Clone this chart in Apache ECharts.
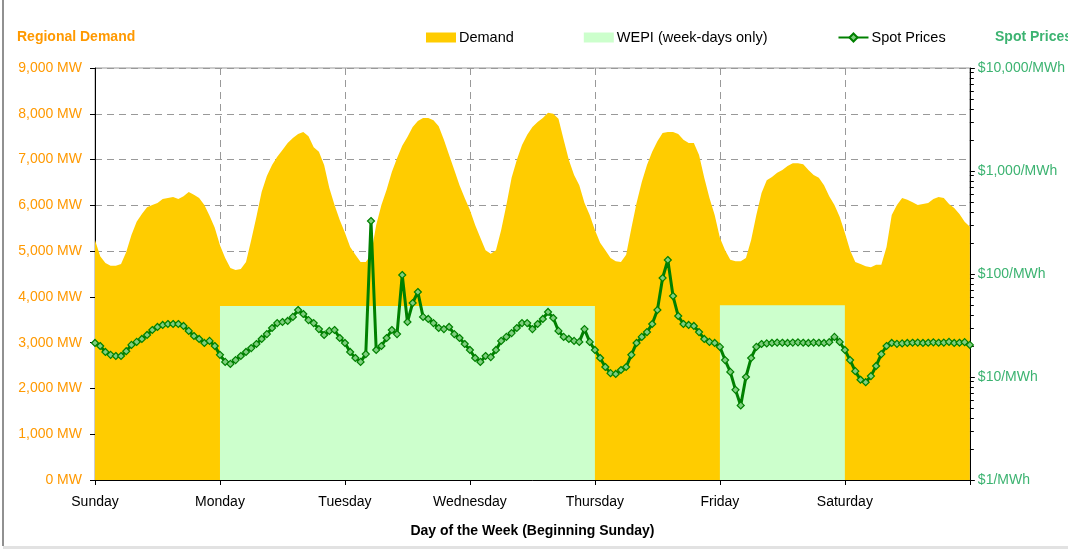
<!DOCTYPE html>
<html>
<head>
<meta charset="UTF-8">
<title>Regional Demand and Spot Prices</title>
<script src="https://cdn.jsdelivr.net/npm/echarts@6/dist/echarts.min.js"></script>
<style>
body { margin: 0; background: #fff; }
#chart { width: 1068px; height: 549px; }
</style>
</head>
<body>
<div id="chart"></div>
<script>
// x axis: days since Sunday 00:00, hourly readings
var days = ['Sunday', 'Monday', 'Tuesday', 'Wednesday', 'Thursday', 'Friday', 'Saturday'];

// regional demand, MW (24 per day + closing point)
var demand = [
  5240, 4890, 4740, 4680, 4680, 4720, 4980, 5350, 5640, 5810, 5960, 6010, 6050, 6140, 6160, 6180, 6140, 6200, 6290, 6230, 6160, 6010, 5770, 5510,
  5130, 4850, 4630, 4590, 4610, 4760, 5240, 5750, 6290, 6640, 6880, 7060, 7210, 7360, 7470, 7560, 7600, 7510, 7270, 7170, 6880, 6380, 6010, 5680,
  5400, 5090, 4920, 4760, 4760, 4920, 5570, 6010, 6340, 6730, 7030, 7300, 7490, 7710, 7840, 7910, 7910, 7860, 7730, 7430, 7100, 6770, 6440, 6160,
  5900, 5570, 5290, 5020, 4940, 5020, 5460, 6010, 6600, 6990, 7320, 7540, 7710, 7820, 7910, 8020, 8000, 7890, 7430, 6990, 6660, 6440, 6050, 5790,
  5460, 5180, 5020, 4850, 4780, 4760, 4920, 5500, 6050, 6510, 6880, 7170, 7400, 7580, 7600, 7600, 7560, 7430, 7360, 7360, 7100, 6600, 6160, 5790,
  5290, 5020, 4810, 4780, 4780, 4850, 5240, 5790, 6270, 6550, 6620, 6710, 6770, 6860, 6920, 6920, 6900, 6770, 6660, 6600, 6440, 6200, 6010, 5750,
  5400, 5020, 4760, 4720, 4670, 4650, 4700, 4700, 5090, 5790, 6010, 6160, 6120, 6070, 6010, 6030, 6050, 6140, 6180, 6160, 6030, 5940, 5810, 5640,
  5530
];

// spot prices, $/MWh (24 per day + closing point)
var spot = [
  21.4, 20.0, 17.5, 16.4, 16.0, 16.0, 17.8, 20.5, 21.9, 23.4, 25.6, 28.6, 30.6, 32.0, 32.7, 32.7, 32.7, 31.3, 28.0, 25.0, 23.4, 21.4, 22.4, 20.0,
  16.4, 14.0, 13.4, 14.6, 16.0, 17.5, 19.1, 20.9, 23.4, 26.1, 29.9, 33.4, 34.2, 35.0, 38.3, 44.7, 40.9, 35.7, 33.4, 29.2, 25.6, 28.0, 28.6, 23.9,
  21.4, 17.5, 15.3, 14.0, 16.7, 327, 18.3, 20.0, 23.9, 28.6, 26.1, 97.8, 34.2, 52.3, 66.9, 38.3, 36.6, 33.4, 29.9, 29.2, 30.6, 26.1, 23.9, 20.9,
  18.3, 15.3, 14.0, 16.0, 15.6, 18.3, 22.4, 24.5, 26.7, 29.9, 33.4, 33.4, 29.2, 32.7, 36.6, 42.8, 37.4, 28.0, 24.5, 23.4, 22.4, 21.9, 29.2, 21.9,
  18.3, 15.3, 12.5, 10.9, 10.7, 11.7, 12.5, 16.4, 21.4, 24.5, 27.3, 32.7, 44.7, 91.5, 136.8, 61.1, 39.1, 32.7, 32.0, 31.3, 27.3, 23.4, 21.9, 21.4,
  19.6, 14.6, 11.2, 7.5, 5.3, 10.0, 15.3, 19.6, 20.9, 21.2, 21.4, 21.6, 21.5, 21.4, 21.6, 21.7, 21.5, 21.4, 21.6, 21.5, 21.4, 21.8, 24.5, 21.9,
  18.3, 14.6, 11.4, 9.4, 8.9, 10.2, 12.8, 16.7, 20.0, 21.4, 21.0, 21.2, 21.4, 21.5, 21.6, 21.4, 21.5, 21.7, 21.5, 21.6, 21.9, 21.4, 21.5, 21.8,
  20.5
];

// WEPI blocks (week-days only), in days and MW
var wepiStart = [1, 5];
var wepiEnd = [4, 6];
var wepiLevel = [3800, 3820];

var font = '"Liberation Sans", Arial, sans-serif';

function commas(v) {
  return String(v).replace(/\B(?=(\d{3})+(?!\d))/g, ',');
}

var demandData = demand.map(function (v, i) { return [i / 24, v]; });
var spotData = spot.map(function (v, i) { return [i / 24, v]; });
var wepiData = [];
for (var k = 0; k < wepiStart.length; k++) {
  if (k > 0) wepiData.push([wepiStart[k], '-']);
  wepiData.push([wepiStart[k], wepiLevel[k]]);
  wepiData.push([wepiEnd[k], wepiLevel[k]]);
}

var chart = echarts.init(document.getElementById('chart'));
var option = {
  animation: false,
  backgroundColor: '#fff',
  textStyle: { fontFamily: font },
  title: [
    { text: 'Regional Demand', left: 17, top: 30, padding: 0,
      textStyle: { color: '#FF9900', fontSize: 14, fontWeight: 'bold', fontFamily: font } },
    { text: 'Spot Prices', left: 995, top: 30, padding: 0,
      textStyle: { color: '#3CB371', fontSize: 14, fontWeight: 'bold', fontFamily: font } }
  ],
  legend: {
    left: 426,
    top: 30,
    padding: 0,
    itemWidth: 30,
    itemHeight: 10,
    itemGap: 70,
    textStyle: { fontSize: 14.5, color: '#000', fontFamily: font, padding: [0, 0, 0, -2] },
    data: [
      { name: 'Demand', icon: 'rect' },
      { name: 'WEPI (week-days only)', icon: 'rect' },
      { name: 'Spot Prices' }
    ]
  },
  graphic: [
    { type: 'line', shape: { x1: 3, y1: 0, x2: 3, y2: 546 }, style: { stroke: '#222', lineWidth: 1 } },
    { type: 'rect', shape: { x: 3, y: 546, width: 1065, height: 3 }, style: { fill: '#e2e2e2' } }
  ],
  grid: {
    left: 95, right: 98, top: 68, bottom: 69,
    show: true, borderColor: '#999', borderWidth: 1
  },
  xAxis: {
    type: 'value',
    min: 0, max: 7, interval: 1,
    name: 'Day of the Week (Beginning Sunday)',
    nameLocation: 'middle',
    nameGap: 44,
    nameTextStyle: { fontSize: 14, fontWeight: 'bold', color: '#000', fontFamily: font },
    axisLine: { lineStyle: { color: '#000', width: 1 } },
    axisTick: { length: 5, lineStyle: { color: '#000' } },
    axisLabel: {
      margin: 15, fontSize: 14, color: '#000', fontFamily: font,
      formatter: function (v) { return days[v] || ''; }
    },
    splitLine: { show: true, lineStyle: { color: '#999', type: [7, 5], width: 1 } }
  },
  yAxis: [
    {
      type: 'value',
      min: 0, max: 9000, interval: 1000,
      axisLine: { show: true, lineStyle: { color: '#000', width: 1 } },
      axisTick: { show: true, length: 5, lineStyle: { color: '#000' } },
      axisLabel: {
        margin: 13, fontSize: 14, color: '#FF9900', fontFamily: font,
        formatter: function (v) { return commas(v) + ' MW'; }
      },
      splitLine: { show: true, lineStyle: { color: '#999', type: [7, 5], width: 1 } }
    },
    {
      type: 'log',
      logBase: 10,
      min: 1, max: 10000,
      position: 'right',
      axisLine: { show: true, lineStyle: { color: '#000', width: 1 } },
      axisTick: { show: true, length: 5, lineStyle: { color: '#000' } },
      minorTick: { show: true, splitNumber: 9, length: 4, lineStyle: { color: '#000' } },
      axisLabel: {
        margin: 8, fontSize: 14, color: '#3CB371', fontFamily: font,
        formatter: function (v) { return '$' + commas(v) + '/MWh'; }
      },
      splitLine: { show: false }
    }
  ],
  series: [
    {
      name: 'Demand',
      type: 'line',
      yAxisIndex: 0,
      data: demandData,
      showSymbol: false,
      color: '#FFCC00',
      lineStyle: { width: 0 },
      areaStyle: { color: '#FFCC00', opacity: 1 },
      z: 1
    },
    {
      name: 'WEPI (week-days only)',
      type: 'line',
      yAxisIndex: 0,
      data: wepiData,
      showSymbol: false,
      connectNulls: false,
      color: '#CCFFCC',
      lineStyle: { width: 0 },
      areaStyle: { color: '#CCFFCC', opacity: 1 },
      z: 2
    },
    {
      name: 'Spot Prices',
      type: 'line',
      yAxisIndex: 1,
      data: spotData,
      symbol: 'diamond',
      symbolSize: 7,
      color: '#008000',
      lineStyle: { color: '#008000', width: 3 },
      itemStyle: { color: '#7fcf7f', borderColor: '#008000', borderWidth: 1.2 },
      z: 3
    }
  ]
};
chart.setOption(option);
</script>
</body>
</html>
